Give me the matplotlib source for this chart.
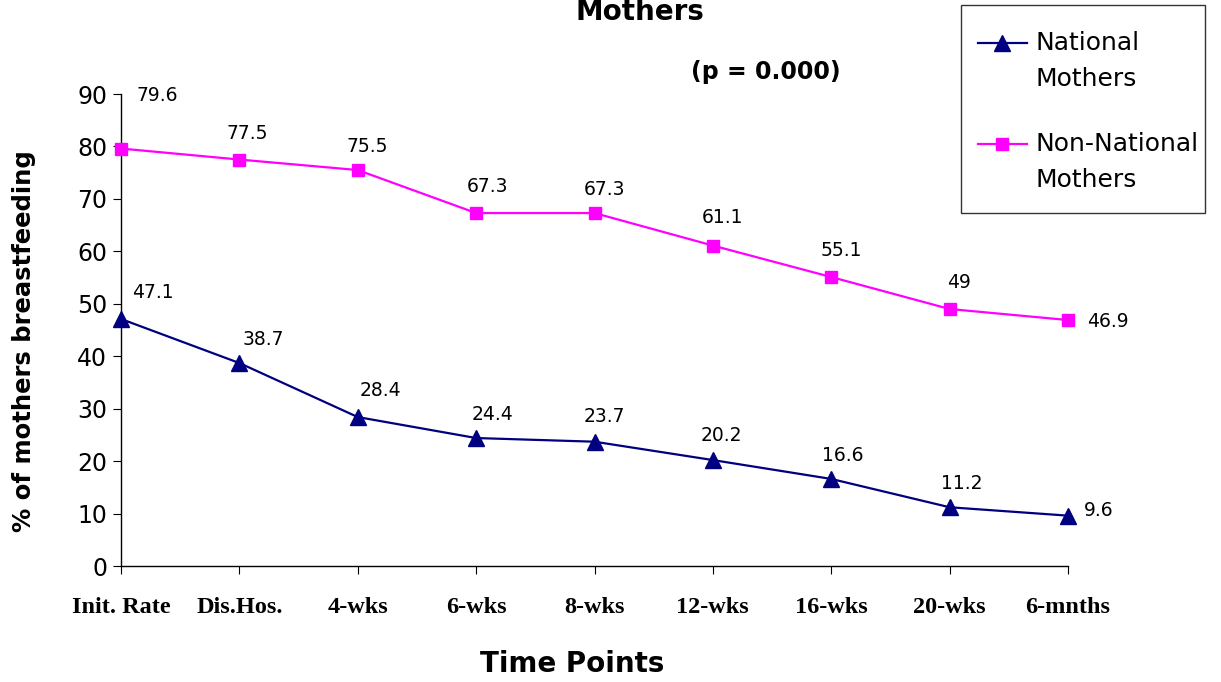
import numpy as np
import matplotlib.pyplot as plt
from matplotlib.lines import Line2D
from matplotlib.patches import Rectangle

# breastfeeding rates at each follow-up point (%)
time_points = ["Init. Rate", "Dis.Hos.", "4-wks", "6-wks", "8-wks",
               "12-wks", "16-wks", "20-wks", "6-mnths"]
national = [47.1, 38.7, 28.4, 24.4, 23.7, 20.2, 16.6, 11.2, 9.6]
non_national = [79.6, 77.5, 75.5, 67.3, 67.3, 61.1, 55.1, 49, 46.9]

# hand-placed label offsets in points (dx, dy)
nat_offsets = [(23, 19), (17, 17), (16, 19), (12, 17), (7, 18),
               (6, 18), (8, 17), (9, 17), (22, 4)]
non_offsets = [(26, 38), (6, 19), (7, 17), (8, 19), (7, 17),
               (7, 20), (7, 19), (7, 19), (29, -1)]

W, H = 1221, 682
fig = plt.figure(figsize=(W / 100, H / 100), dpi=100)
ax = fig.add_axes([121 / W, (H - 566) / H, (1068 - 121) / W, (566 - 94) / H])

x = np.arange(len(time_points))
navy = "#000080"
magenta = "#FF00FF"

ax.plot(x, national, color=navy, lw=1.6, marker="^", ms=11, clip_on=False, zorder=3)
ax.plot(x, non_national, color=magenta, lw=1.6, marker="s", ms=8, clip_on=False, zorder=3)

for xi, v, off in zip(x, national, nat_offsets):
    ax.annotate(f"{v:g}", (xi, v), xytext=off, textcoords="offset points",
                ha="center", va="center", fontsize=13.5, family="DejaVu Sans")
for xi, v, off in zip(x, non_national, non_offsets):
    ax.annotate(f"{v:g}", (xi, v), xytext=off, textcoords="offset points",
                ha="center", va="center", fontsize=13.5, family="DejaVu Sans")

ax.set_xlim(0, 8)
ax.set_ylim(0, 90)
ax.set_yticks(range(0, 91, 10))
ax.set_xticks(x)
ax.set_xticklabels(time_points, family="Liberation Serif", fontweight="bold", fontsize=17.5)
ax.tick_params(axis="x", direction="out", length=6, pad=16)
ax.tick_params(axis="y", direction="out", length=6, labelsize=17, pad=4)
for lab in ax.get_yticklabels():
    lab.set_family("DejaVu Sans")

for side in ("top", "right"):
    ax.spines[side].set_visible(False)
for side in ("left", "bottom"):
    ax.spines[side].set_linewidth(1.0)

ax.set_ylabel("% of mothers breastfeeding", fontsize=17.5, fontweight="bold")
ax.yaxis.set_label_coords(36 / W, 0.5, transform=fig.transFigure)
fig.text(572 / W, 1 - 664 / H, "Time Points", ha="center", va="center",
         fontsize=20, fontweight="bold")

fig.text(640 / W, 1 - 20 / H, "Mothers", ha="center", va="baseline",
         fontsize=20, fontweight="bold")
fig.text(766 / W, 1 - 72 / H, "(p = 0.000)", ha="center", va="center",
         fontsize=17, fontweight="bold")

# legend drawn in figure pixels
def px(xp, yp):
    return xp / W, 1 - yp / H

fig.patches.append(Rectangle(px(961, 213), (1205 - 961) / W, (213 - 5) / H,
                             transform=fig.transFigure, fill=False,
                             edgecolor="#333333", lw=1.0))
for yl, col, mk, ms, label in [(43, navy, "^", 11, "National\nMothers"),
                               (144, magenta, "s", 8, "Non-National\nMothers")]:
    fig.lines.append(Line2D([978 / W, 1027 / W], [1 - yl / H] * 2,
                            transform=fig.transFigure, color=col, lw=1.6))
    fig.lines.append(Line2D([1002 / W], [1 - yl / H], transform=fig.transFigure,
                            color=col, marker=mk, ms=ms))
    fig.text(1035 / W, 1 - (yl - 12) / H, label, ha="left", va="top",
             fontsize=18, linespacing=1.65)

fig.savefig("out.png", dpi=100)
